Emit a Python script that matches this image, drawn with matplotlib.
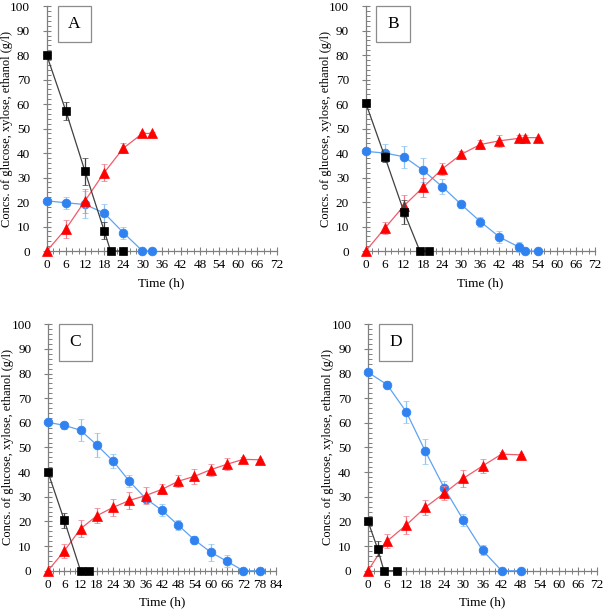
import matplotlib
matplotlib.use("Agg")
import matplotlib.pyplot as plt
from matplotlib.ticker import MultipleLocator
from matplotlib.patches import Rectangle

plt.rcParams['font.family'] = ['Liberation Serif', 'DejaVu Serif']

# ---- data ----
# panel A
a_glu_t = [0, 6, 12, 18, 20, 24]
a_glu = [80, 57.2, 32.5, 8.3, 0, 0]
a_glu_err = [1, 3.5, 5.5, 3.5, 0, 0]
a_xyl_t = [0, 6, 12, 18, 24, 30, 33]
a_xyl = [20.5, 19.7, 19, 15.5, 7.5, 0, 0]
a_xyl_err = [1, 2.5, 5.5, 3.5, 2.5, 0, 0]
a_eth_t = [0, 6, 12, 18, 24, 30, 33]
a_eth = [0, 9, 20.5, 32, 42, 48, 48]
a_eth_err = [0, 3.5, 5, 3.5, 2, 0.5, 0.5]

# panel B
b_glu_t = [0, 6, 12, 17, 20]
b_glu = [60.5, 38.5, 16, 0, 0]
b_glu_err = [1, 2, 5, 0, 0]
b_xyl_t = [0, 6, 12, 18, 24, 30, 36, 42, 48, 50, 54]
b_xyl = [40.7, 40, 38.5, 33, 26.3, 19, 12, 5.7, 1.7, 0, 0]
b_xyl_err = [0.5, 3.5, 4.5, 5, 3, 1.5, 2, 2.5, 2, 0, 0]
b_eth_t = [0, 6, 12, 18, 24, 30, 36, 42, 48, 50, 54]
b_eth = [0, 9.3, 18.5, 26, 33.5, 39.5, 43.5, 45, 46, 46.3, 46.3]
b_eth_err = [0, 2.5, 4.5, 4, 2.5, 1.5, 2, 2.5, 1.5, 1, 0]

# panel C
c_glu_t = [0, 6, 12, 15]
c_glu = [40, 20.5, 0, 0]
c_glu_err = [0.5, 3, 0, 0]
c_xyl_t = [0, 6, 12, 18, 24, 30, 36, 42, 48, 54, 60, 66, 72, 78]
c_xyl = [60.2, 59, 57, 51, 44.5, 36.3, 29.3, 24.5, 18.5, 12.5, 7.5, 3.8, 0, 0]
c_xyl_err = [1, 1.5, 4.5, 5, 3, 2.5, 1.5, 2.5, 2, 1.5, 3.5, 2.5, 0, 0]
c_eth_t = [0, 6, 12, 18, 24, 30, 36, 42, 48, 54, 60, 66, 72, 78]
c_eth = [0, 8, 17, 22.3, 25.7, 28.5, 30.5, 33, 36.3, 38.3, 41, 43.2, 45.2, 45]
c_eth_err = [0, 3, 3.5, 3, 3.5, 3.5, 3.5, 2, 2.5, 3, 2.5, 2.5, 1, 0.5]

# panel D
d_glu_t = [0, 3, 5, 9]
d_glu = [20, 9, 0, 0]
d_glu_err = [0.5, 3, 0, 0]
d_xyl_t = [0, 6, 12, 18, 24, 30, 36, 42, 48]
d_xyl = [80.5, 75.5, 64.5, 48.5, 33.5, 20.5, 8.3, 0, 0]
d_xyl_err = [1, 1.5, 4.5, 5, 3, 2.5, 2, 0, 0]
d_eth_t = [0, 6, 12, 18, 24, 30, 36, 42, 48]
d_eth = [0, 12, 18.5, 25.7, 31.5, 37.5, 42.5, 47.3, 47]
d_eth_err = [0, 2.8, 3.5, 3, 3, 3.5, 3, 1, 0.5]

panels = [
    ('A', [0.0772, 0.5905, 0.3800, 0.3995], 72,
     (a_glu_t, a_glu, a_glu_err), (a_xyl_t, a_xyl, a_xyl_err), (a_eth_t, a_eth, a_eth_err)),
    ('B', [0.6045, 0.5905, 0.3790, 0.3995], 72,
     (b_glu_t, b_glu, b_glu_err), (b_xyl_t, b_xyl, b_xyl_err), (b_eth_t, b_eth, b_eth_err)),
    ('C', [0.0793, 0.0690, 0.3767, 0.4020], 84,
     (c_glu_t, c_glu, c_glu_err), (c_xyl_t, c_xyl, c_xyl_err), (c_eth_t, c_eth, c_eth_err)),
    ('D', [0.6083, 0.0690, 0.3785, 0.4020], 72,
     (d_glu_t, d_glu, d_glu_err), (d_xyl_t, d_xyl, d_xyl_err), (d_eth_t, d_eth, d_eth_err)),
]

fig = plt.figure(figsize=(6.05, 6.13), dpi=100)

for name, rect, xmax, glu, xyl, eth in panels:
    ax = fig.add_axes(rect)
    # xylose (blue circles)
    ax.errorbar(xyl[0], xyl[1], yerr=xyl[2], fmt='-', color='#5fa3f2', lw=0.9,
                ecolor='#8cc4f5', elinewidth=0.9, capsize=2.5, capthick=0.9,
                marker='o', ms=6.3, mew=0.5, mfc='#2f82f0', mec='#2f82f0',
                clip_on=False, zorder=3)
    # ethanol (red triangles)
    ax.errorbar(eth[0], eth[1], yerr=eth[2], fmt='-', color='#f05a6a', lw=0.9,
                ecolor='#f07a8a', elinewidth=0.9, capsize=2.5, capthick=0.9,
                marker='^', ms=7, mew=0.5, mfc='#ff0000', mec='#ff0000',
                clip_on=False, zorder=4)
    # glucose (black squares)
    ax.errorbar(glu[0], glu[1], yerr=glu[2], fmt='-', color='#404040', lw=0.9,
                ecolor='#404040', elinewidth=0.9, capsize=2.5, capthick=0.9,
                marker='s', ms=5.5, mew=0.5, mfc='black', mec='black',
                clip_on=False, zorder=5)

    ax.set_xlim(0, xmax)
    ax.set_ylim(0, 100)
    ax.xaxis.set_major_locator(MultipleLocator(6))
    ax.xaxis.set_minor_locator(MultipleLocator(2))
    ax.yaxis.set_major_locator(MultipleLocator(10))
    ax.yaxis.set_minor_locator(MultipleLocator(2))
    for s in ['top', 'right']:
        ax.spines[s].set_visible(False)
    for s in ['left', 'bottom']:
        ax.spines[s].set_color('#7f7f7f')
        ax.spines[s].set_linewidth(0.9)
    ax.tick_params(which='major', direction='inout', length=6, width=0.8,
                   color='#7f7f7f', labelsize=9.5)
    ax.tick_params(axis='x', which='major', pad=3)
    ax.tick_params(axis='y', which='major', pad=9)
    ax.tick_params(axis='x', which='minor', direction='inout', length=4, width=0.7,
                   color='#7f7f7f')
    ax.tick_params(axis='y', which='minor', direction='in', length=3, width=0.7,
                   color='#7f7f7f')
    ax.set_xlabel('Time (h)', fontsize=9.5, labelpad=4)
    ax.set_ylabel('Concs. of glucose, xylose, ethanol (g/l)', fontsize=9)
    ax.yaxis.set_label_coords(-0.148, 0.5)

    box = Rectangle((0.047, 0.853), 0.145, 0.148, transform=ax.transAxes,
                    fc='white', ec='#8c8c8c', lw=0.9, clip_on=False, zorder=6)
    ax.add_patch(box)
    ax.text(0.1195, 0.927, name, transform=ax.transAxes, ha='center', va='center',
            fontsize=12.5, zorder=7)

fig.savefig('out.png', dpi=100)
